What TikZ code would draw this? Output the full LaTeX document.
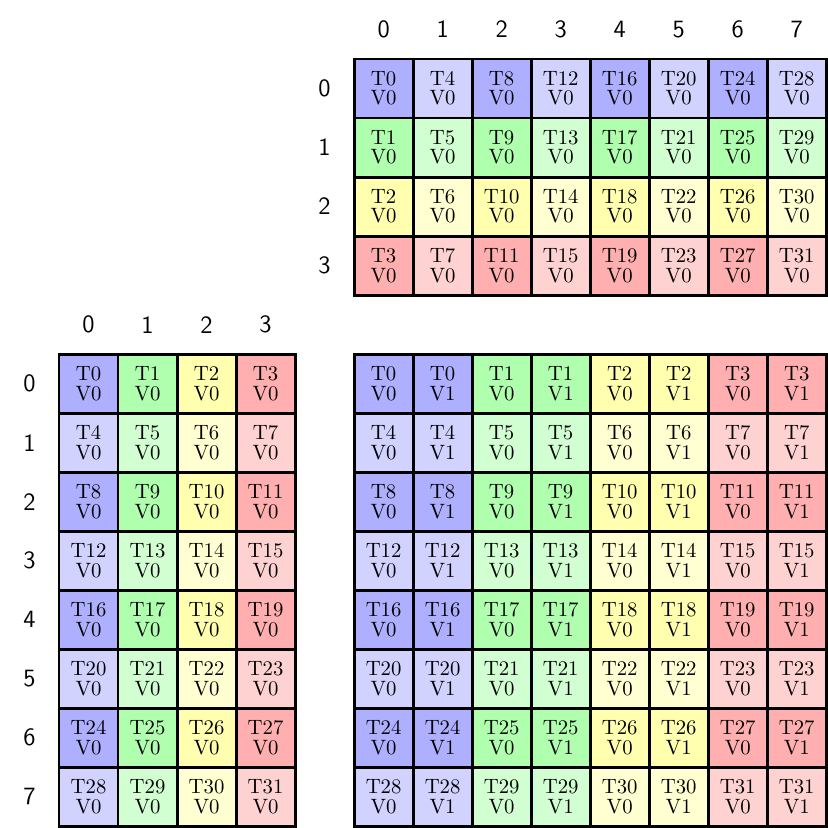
\documentclass[tikz,border=0pt]{standalone}
\usepackage{tikz}

\definecolor{c0}{RGB}{175,175,255}
\definecolor{c1}{RGB}{175,255,175}
\definecolor{c2}{RGB}{255,255,175}
\definecolor{c3}{RGB}{255,175,175}
\definecolor{c4}{RGB}{210,210,255}
\definecolor{c5}{RGB}{210,255,210}
\definecolor{c6}{RGB}{255,255,210}
\definecolor{c7}{RGB}{255,210,210}

\begin{document}
\begin{tikzpicture} [
    x=1cm, y=-1cm,
    cell/.style = {draw, line width=1.4pt, minimum size=1cm, inner sep=0pt,
                   align=center, font=\fontsize{10}{9.3}\selectfont},
    idx/.style = {font=\sffamily\fontsize{12}{14}\selectfont}
]
    \useasboundingbox (0,0) rectangle (14.03,14.03);

    % top: 4 x 8
    \foreach \r in {0,...,3} {
        \node [idx] (tr\r) at (5.5, 1.5+\r) {\r};
        \foreach \c in {0,...,7} {
            \pgfmathtruncatemacro\k{\r + 4*mod(\c,2)}
            \pgfmathtruncatemacro\t{4*\c + \r}
            \node [cell, fill=c\k] (t-\r-\c) at (6.5+\c, 1.5+\r) {T\t\\V0};
        }
    }
    \foreach \c in {0,...,7}
        \node [idx] (tc\c) at (6.5+\c, 0.5) {\c};

    % left: 8 x 4
    \foreach \r in {0,...,7} {
        \node [idx] (lr\r) at (0.5, 6.5+\r) {\r};
        \foreach \c in {0,...,3} {
            \pgfmathtruncatemacro\k{\c + 4*mod(\r,2)}
            \pgfmathtruncatemacro\t{4*\r + \c}
            \node [cell, fill=c\k] (l-\r-\c) at (1.5+\c, 6.5+\r) {T\t\\V0};
        }
    }
    \foreach \c in {0,...,3}
        \node [idx] (lc\c) at (1.5+\c, 5.5) {\c};

    % right: 8 x 8
    \foreach \r in {0,...,7} {
        \foreach \c in {0,...,7} {
            \pgfmathtruncatemacro\k{floor(\c/2) + 4*mod(\r,2)}
            \pgfmathtruncatemacro\t{4*\r + floor(\c/2)}
            \pgfmathtruncatemacro\v{mod(\c,2)}
            \node [cell, fill=c\k] (m-\r-\c) at (6.5+\c, 6.5+\r) {T\t\\V\v};
        }
    }
\end{tikzpicture}
\end{document}
